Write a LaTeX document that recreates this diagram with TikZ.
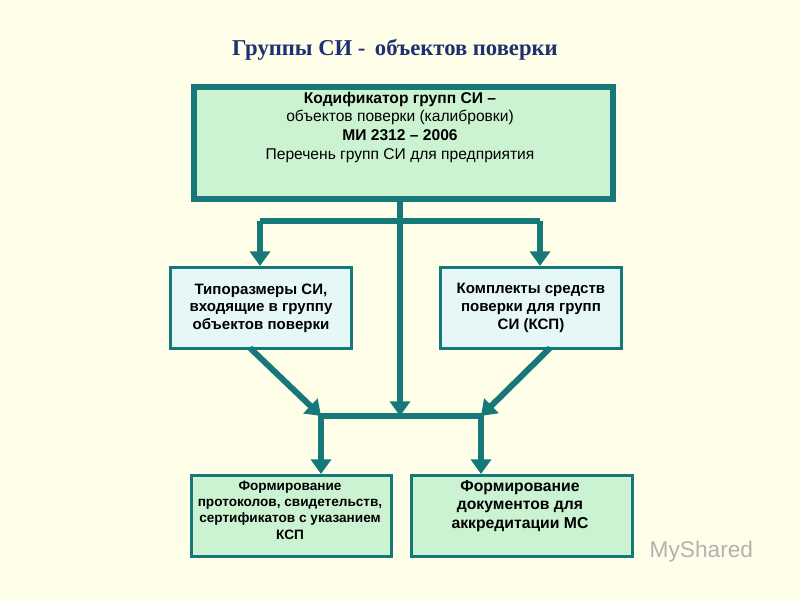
\documentclass[tikz,border=0pt]{standalone}
\usepackage{fontspec}
\setmainfont{Liberation Sans}
\newfontfamily\serifx{Liberation Serif}
\usetikzlibrary{arrows.meta}
\definecolor{bg}{HTML}{FFFFE9}
\definecolor{teal}{HTML}{167878}
\definecolor{gfill}{HTML}{CBF3D2}
\definecolor{bfill}{HTML}{E6F7F7}
\definecolor{ttl}{HTML}{1F2F6F}
\tikzset{
  box/.style={draw=teal, line width=2.2pt, fill=gfill, anchor=north west, align=center, inner sep=0pt, font=\bfseries\fontsize{11.3}{13.2}\selectfont},
  arr/.style={draw=teal, line width=4.5pt, -{Triangle[width=15pt,length=11pt]}},
  ln/.style={draw=teal, line width=4.5pt},
}
\begin{document}
\begin{tikzpicture}[x=0.75pt,y=-0.75pt]
\fill[bg] (0,0) rectangle (800,600);
\node[font=\serifx\bfseries\fontsize{17}{19}\selectfont, text=ttl] (title) at (395,50) {Группы СИ -\, объектов поверки};
\node[box, line width=4.5pt, minimum width=419*0.75pt, minimum height=112*0.75pt] (top) at (191,84) {};
\node[align=center, font=\fontsize{11.7}{14}\selectfont, anchor=north] (toptext) at (400,87) {\textbf{Кодификатор групп СИ –}\\объектов поверки (калибровки)\\\textbf{МИ 2312 – 2006}\\Перечень групп СИ для предприятия};
\node[box, fill=bfill, minimum width=181*0.75pt, minimum height=81*0.75pt] (ml) at (169,266) {Типоразмеры СИ,\\входящие в группу\\объектов поверки};
\node[box, fill=bfill, minimum width=181*0.75pt, minimum height=81*0.75pt] (mr) at (439,266) {Комплекты средств\\поверки для групп\\СИ (КСП)};
\node[box, minimum width=200*0.75pt, minimum height=81*0.75pt] (bl) at (190,474) {};
\node[font=\bfseries\fontsize{10.2}{12.3}\selectfont, align=center] (bltext) at (290,510) {Формирование\\протоколов, свидетельств,\\сертификатов с указанием\\КСП};
\node[box, minimum width=221*0.75pt, minimum height=81*0.75pt] (br) at (410,474) {};
\node[font=\bfseries\fontsize{11.8}{14}\selectfont, align=center] (brtext) at (520,506) {Формирование\\документов для\\аккредитации МС};
\coordinate (s) at (400,198);
\coordinate (jl) at (260,221);
\coordinate (jr) at (540,221);
\coordinate (hub) at (400,416);
\coordinate (hl) at (321,416);
\coordinate (hr) at (481,416);
\draw[ln] (jl) -- (jr);
\draw[arr] (s) -- (hub);
\draw[arr] (jl) -- (ml.north west -| jl);
\draw[arr] (jr) -- (mr.north west -| jr);
\draw[arr] (250,348) -- (hl);
\draw[arr] (550,348) -- (hr);
\draw[ln] ([xshift=-2.2pt]hl) -- ([xshift=2.2pt]hr);
\draw[arr] (hl) -- (bl.north west -| hl);
\draw[arr] (hr) -- (br.north west -| hr);
\node[anchor=west, text=gray!60, font=\fontsize{17}{18}\selectfont] (wm) at (645,552) {MyShared};
\end{tikzpicture}
\end{document}
